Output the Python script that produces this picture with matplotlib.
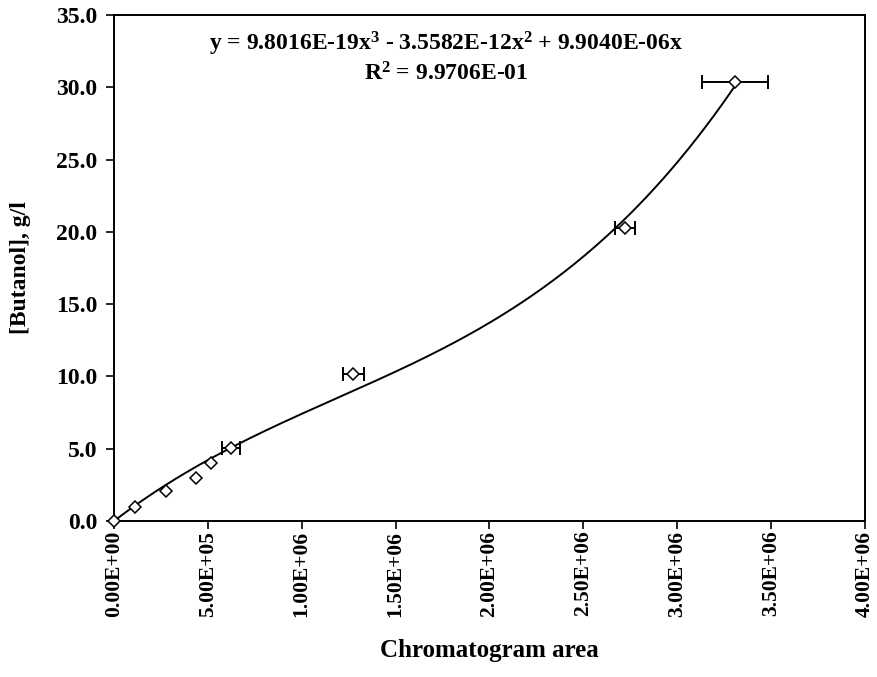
import numpy as np
import matplotlib
matplotlib.use("Agg")
import matplotlib.pyplot as plt

# calibration points
area = [0.0, 1.10e5, 2.76e5, 4.39e5, 5.19e5, 6.22e5, 1.276e6, 2.725e6, 3.307e6]
butanol = [0.0, 0.99, 2.07, 3.0, 3.99, 5.07, 10.14, 20.24, 30.38]
area_err = [0, 0, 0, 0, 0, 4.8e4, 5.6e4, 5.3e4, 1.75e5]

x_ticks = [0, 5e5, 1e6, 1.5e6, 2e6, 2.5e6, 3e6, 3.5e6, 4e6]
x_ticklabels = ["0.00E+00", "5.00E+05", "1.00E+06", "1.50E+06", "2.00E+06",
                "2.50E+06", "3.00E+06", "3.50E+06", "4.00E+06"]
y_ticks = [0, 5, 10, 15, 20, 25, 30, 35]

eq_text = "y = 9.8016E-19x$^3$ - 3.5582E-12x$^2$ + 9.9040E-06x"
r2_text = "R$^2$ = 9.9706E-01"

plt.rcParams["font.family"] = ["Liberation Serif", "DejaVu Serif"]
plt.rcParams["font.weight"] = "bold"
plt.rcParams["mathtext.default"] = "regular"

fig = plt.figure(figsize=(8.77, 6.77), dpi=100)
ax = fig.add_axes([0.130, 0.2304, 0.856, 0.7476])

# cubic trendline through the origin, fitted to the points
xa = np.array(area)
ya = np.array(butanol)
A = np.column_stack([xa ** 3, xa ** 2, xa])
coef, *_ = np.linalg.lstsq(A / [1e18, 1e12, 1e6], ya, rcond=None)
xs = np.linspace(0, xa.max(), 300)
ys = coef[0] * (xs / 1e6) ** 3 + coef[1] * (xs / 1e6) ** 2 + coef[2] * (xs / 1e6)
ax.plot(xs, ys, color="black", lw=1.4, zorder=2)

# error bars only where there is an error
err_idx = [i for i, e in enumerate(area_err) if e > 0]
ax.errorbar([area[i] for i in err_idx], [butanol[i] for i in err_idx],
            xerr=[area_err[i] for i in err_idx], fmt="none", ecolor="black",
            elinewidth=1.4, capsize=5, capthick=1.4, zorder=3)
ax.plot(area, butanol, linestyle="none", marker="D", markersize=6,
        markerfacecolor="white", markeredgecolor="black", markeredgewidth=1.1,
        zorder=4, clip_on=False)

ax.set_xlim(0, 4e6)
ax.set_ylim(0, 35)
ax.set_xticks(x_ticks)
ax.set_xticklabels(x_ticklabels, rotation=90, fontsize=15.5, fontweight="bold")
ax.set_yticks(y_ticks)
ax.set_yticklabels([f"{v:.1f}" for v in y_ticks], fontsize=17, fontweight="bold")
ax.tick_params(direction="out", length=6, width=1.2, pad=6)
ax.tick_params(axis="x", pad=1)
for s in ax.spines.values():
    s.set_linewidth(1.4)

ax.set_xlabel("Chromatogram area", fontsize=18, fontweight="bold", labelpad=16)
ax.set_ylabel("[Butanol], g/l", fontsize=17, fontweight="bold", labelpad=18)

ax.text(0.442, 0.943, eq_text, transform=ax.transAxes, ha="center", va="center",
        fontsize=17, fontweight="bold")
ax.text(0.442, 0.883, r2_text, transform=ax.transAxes, ha="center", va="center",
        fontsize=17, fontweight="bold")

fig.savefig("out.png", dpi=100)
